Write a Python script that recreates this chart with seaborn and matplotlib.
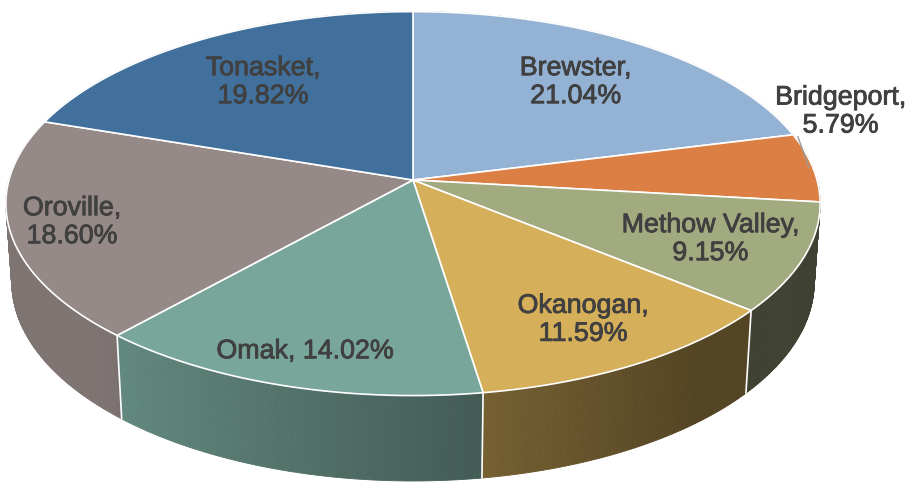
import numpy as np
import matplotlib
matplotlib.use("Agg")
import matplotlib.pyplot as plt
import matplotlib.patheffects as pe
import seaborn as sns
from matplotlib.patches import Polygon
from matplotlib.collections import PolyCollection

# ---- data ----
categories = ["Brewster", "Bridgeport", "Methow Valley", "Okanogan", "Omak", "Oroville", "Tonasket"]
shares = [21.04, 5.79, 9.15, 11.59, 14.02, 18.60, 19.82]
slice_colors = ["#93B2D4", "#DC7F45", "#A2AA80", "#D6AF5A", "#78A69A", "#968A88", "#41709D"]

# ---- label placement (separate from data) ----
label_radius = [0.70, 1.07, 0.77, 0.78, 0.85, 0.85, 0.68]
label_dy = [0, -55, 0, 0, 0, 0, 0]
label_oneline = [False, False, False, False, True, False, False]

sns.set_theme(style="white")
plt.rcParams["font.family"] = ["Liberation Sans", "DejaVu Sans"]
palette = sns.color_palette(slice_colors)

W, H = 910, 483
fig = plt.figure(figsize=(W / 100, H / 100), dpi=100)
ax = fig.add_axes([0, 0, 1, 1])
ax.set_xlim(0, W)
ax.set_ylim(H, 0)
ax.axis("off")

# ---- 3D projection ----
cx, cy = 413.0, 180.0
alpha = np.radians(27.9)
Dcam = 7.19
Fpx = 2905.0
thick = 0.222


def proj(x, y, z):
    v = y * np.sin(alpha) + z * np.cos(alpha)
    depth = Dcam + y * np.cos(alpha) - z * np.sin(alpha)
    return cx + x * Fpx / depth, cy - v * Fpx / depth, depth


def rim(theta, r=1.0, z=0.0):
    return proj(r * np.sin(theta), r * np.cos(theta), z)


total = sum(shares)
bounds = np.concatenate([[0], np.cumsum(shares)]) / total * 2 * np.pi

# ---- side faces ----
quads, qcols, qdepth = [], [], []
for i in range(len(shares)):
    t0, t1 = bounds[i], bounds[i + 1]
    n = max(int((t1 - t0) / np.radians(0.5)), 2)
    ts = np.linspace(t0, t1, n + 1)
    base = np.array(palette[i])
    for a, b in zip(ts[:-1], ts[1:]):
        xa, ya, da = rim(a)
        xb, yb, db = rim(b)
        xa2, ya2, _ = rim(a, z=-thick)
        xb2, yb2, _ = rim(b, z=-thick)
        m = 0.5 * (a + b)
        f = np.clip(0.60 - 0.33 * np.sin(m), 0.39, 0.84)
        quads.append([(xa, ya), (xb, yb), (xb2, yb2), (xa2, ya2)])
        qcols.append(tuple(base * f))
        qdepth.append(0.5 * (da + db))
order = np.argsort(qdepth)[::-1]
pc = PolyCollection([quads[k] for k in order], facecolors=[qcols[k] for k in order],
                    edgecolors=[qcols[k] for k in order], linewidths=0.6, zorder=1)
ax.add_collection(pc)

# boundary lines on visible side
thr = -1.0 / (Dcam * np.cos(alpha))
for tb in bounds[1:-1]:
    if np.cos(tb) < thr:
        x1, y1, _ = rim(tb)
        x2, y2, _ = rim(tb, z=-thick)
        ax.plot([x1, x2], [y1, y2], color="white", lw=1.2, zorder=2)

# ---- top faces ----
for i in range(len(shares)):
    t0, t1 = bounds[i], bounds[i + 1]
    ts = np.linspace(t0, t1, max(int((t1 - t0) / np.radians(0.5)), 2) + 1)
    pts = [(cx, cy)] + [rim(t)[:2] for t in ts]
    ax.add_patch(Polygon(pts, closed=True, facecolor=palette[i], edgecolor="white",
                         linewidth=1.2, joinstyle="round", zorder=3))

# ---- labels ----
for i, name in enumerate(categories):
    mid = 0.5 * (bounds[i] + bounds[i + 1])
    lx, ly, _ = rim(mid, r=label_radius[i])
    ly += label_dy[i]
    sep = " " if label_oneline[i] else "\n"
    txt = f"{name},{sep}{shares[i]:.2f}%"
    t = ax.text(lx, ly, txt, ha="center", va="center", fontsize=19.3, color="#404040",
                linespacing=1.1, zorder=5)
    t.set_path_effects([pe.withStroke(linewidth=0.6, foreground="#404040")])
    if label_dy[i] != 0:
        ex, ey, _ = rim(mid, r=0.99)
        ax.plot([ex, ex - 11], [ey, ey - 31], color="#9A9A9A", lw=1.0, zorder=4)

fig.savefig("out.png", dpi=100)
